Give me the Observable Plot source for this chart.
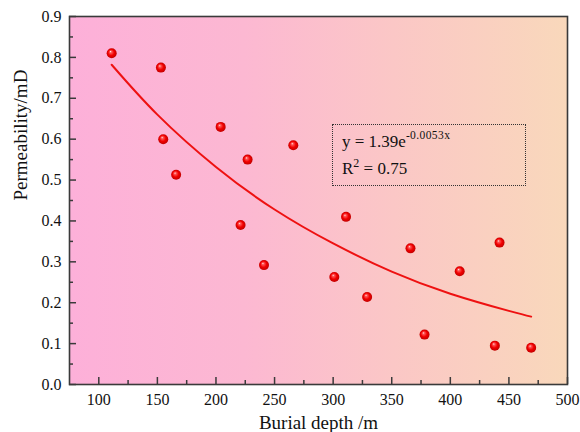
<!DOCTYPE html>
<html><head><meta charset="utf-8">
<script src="https://cdn.jsdelivr.net/npm/d3@7"></script>
<script src="https://cdn.jsdelivr.net/npm/@observablehq/plot@0.6"></script>
<style>
body{margin:0;background:#fff;}
#wrap{position:relative;width:580px;height:432px;font-family:"Liberation Serif","Times New Roman",serif;}
#wrap svg text{font-family:"Liberation Serif","Times New Roman",serif !important;font-variant-numeric:normal !important;}
#eq{position:absolute;left:332px;top:124px;width:194px;height:62px;border:1.6px dotted #333;box-sizing:border-box;font-size:17px;color:#111;line-height:1;}
#eq .l{position:absolute;left:9px;white-space:nowrap;}
#eq sup{font-size:11.5px;position:relative;top:-8px;vertical-align:baseline;letter-spacing:0.4px;}
</style></head><body><div id="wrap"><div id="eq"></div></div>
<script>
// Scatter data (burial depth m, permeability mD)
const depth = [111, 153, 155, 166, 204, 227, 221, 241, 266, 301, 311, 329, 366, 378, 408, 442, 438, 469];
const perm  = [0.81, 0.775, 0.60, 0.513, 0.63, 0.55, 0.39, 0.292, 0.585, 0.263, 0.41, 0.214, 0.333, 0.122, 0.277, 0.347, 0.095, 0.09];
// Fitted curve
const fitDepth = [111, 150, 200, 250, 300, 350, 400, 450, 469];
const fitPerm  = [0.782, 0.66, 0.532, 0.428, 0.345, 0.276, 0.222, 0.18, 0.166];
// Axis ticks
const xMajor = [100, 150, 200, 250, 300, 350, 400, 450, 500];
const xMinor = [125, 175, 225, 275, 325, 375, 425, 475];
const yMajor = [0, 0.1, 0.2, 0.3, 0.4, 0.5, 0.6, 0.7, 0.8, 0.9];
const yMinor = [0.05, 0.15, 0.25, 0.35, 0.45, 0.55, 0.65, 0.75, 0.85];
const xTitle = "Burial depth /m";
const yTitle = "Permeability/mD";
const eqMain = "y = 1.39e", eqExp = "-0.0053x", r2Value = "0.75";

const W = 580, H = 432, mL = 69, mR = 13, mT = 16, mB = 48;
const fw = W - mL - mR, fh = H - mT - mB;
const serif = "'Liberation Serif', 'Times New Roman', serif";

const defs = () => {
  const d = d3.create("svg:defs");
  const lg = d.append("linearGradient").attr("id", "bg").attr("x1", 0).attr("x2", 1).attr("y1", 0).attr("y2", 0);
  lg.append("stop").attr("offset", "0%").attr("stop-color", "#fdb0d9");
  lg.append("stop").attr("offset", "35%").attr("stop-color", "#fcb8d2");
  lg.append("stop").attr("offset", "65%").attr("stop-color", "#fbc7c6");
  lg.append("stop").attr("offset", "100%").attr("stop-color", "#f9d8bb");
  const rg = d.append("radialGradient").attr("id", "ball").attr("cx", "50%").attr("cy", "50%").attr("r", "55%").attr("fx", "38%").attr("fy", "32%");
  rg.append("stop").attr("offset", "0%").attr("stop-color", "#ffe8e8");
  rg.append("stop").attr("offset", "18%").attr("stop-color", "#ff5a5a");
  rg.append("stop").attr("offset", "55%").attr("stop-color", "#f20000");
  rg.append("stop").attr("offset", "100%").attr("stop-color", "#b80000");
  return d.node();
};

const axisColor = "#3a3a3a";
const chart = Plot.plot({
  width: W, height: H,
  marginLeft: mL, marginRight: mR, marginTop: mT, marginBottom: mB,
  style: {fontFamily: serif, fontSize: "16px", color: "#111", background: "transparent"},
  x: {domain: [75, 500]},
  y: {domain: [0, 0.9]},
  marks: [
    defs,
    Plot.frame({fill: "url(#bg)"}),
    Plot.axisX({ticks: xMajor, tickSize: 0, tickPadding: 9, tickFormat: d => String(d), fontSize: 16, fontFamily: serif, fill: "#111", label: null}),
    Plot.axisY({ticks: yMajor, tickSize: 0, tickPadding: 8, tickFormat: d3.format(".1f"), fontSize: 16, fontFamily: serif, fill: "#111", label: null}),
    Plot.text([xTitle], {frameAnchor: "bottom", dy: 38, text: d => d, fontSize: 19, fontFamily: serif, fill: "#111", lineAnchor: "middle"}),
    Plot.text([yTitle], {frameAnchor: "left", dx: -49, rotate: -90, text: d => d, fontSize: 19, fontFamily: serif, fill: "#111"}),
    Plot.tickX(xMajor, {x: d => d, insetTop: fh - 7, stroke: axisColor, strokeWidth: 1.5}),
    Plot.tickX(xMinor, {x: d => d, insetTop: fh - 4, stroke: axisColor, strokeWidth: 1.5}),
    Plot.tickY(yMajor, {y: d => d, insetRight: fw - 7, stroke: axisColor, strokeWidth: 1.5}),
    Plot.tickY(yMinor, {y: d => d, insetRight: fw - 4, stroke: axisColor, strokeWidth: 1.5}),
    Plot.frame({stroke: axisColor, strokeWidth: 1.6}),
    Plot.line(fitDepth.map((x, i) => ({x, y: fitPerm[i]})), {x: "x", y: "y", curve: "natural", stroke: "#ee1111", strokeWidth: 2}),
    Plot.dot(depth.map((x, i) => ({x, y: perm[i]})), {x: "x", y: "y", r: 5, fill: "url(#ball)", stroke: "none"})
  ]
});
const wrap = document.getElementById("wrap");
wrap.insertBefore(chart, wrap.firstChild);
chart.style.position = "absolute"; chart.style.left = "0"; chart.style.top = "0";
const eq = document.getElementById("eq");
eq.innerHTML = `<div class="l" style="top:8px">${eqMain}<sup>${eqExp}</sup></div><div class="l" style="top:35px">R<sup style="font-size:12px;top:-7px;letter-spacing:0">2</sup> = ${r2Value}</div>`;
</script></body></html>
